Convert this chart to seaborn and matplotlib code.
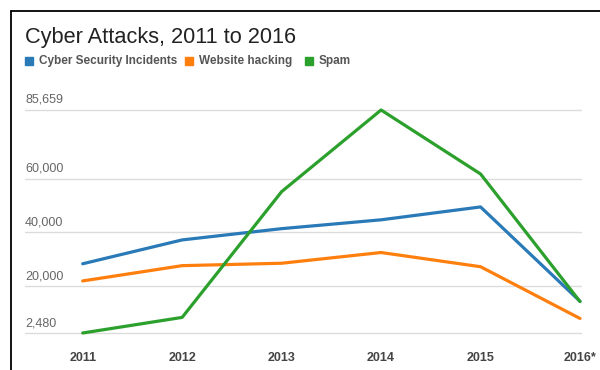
import matplotlib
matplotlib.use("Agg")
import matplotlib.pyplot as plt
from matplotlib.lines import Line2D
from matplotlib.patches import Rectangle
import matplotlib.transforms as mtransforms
import seaborn as sns
import pandas as pd

years = ["2011", "2012", "2013", "2014", "2015", "2016*"]
cyber_incidents = [28300, 37200, 41400, 44700, 49500, 14300]
website_hacking = [21900, 27600, 28500, 32500, 27200, 7900]
spam = [2480, 8300, 55200, 85659, 61800, 14200]
series_names = ["Cyber Security Incidents", "Website hacking", "Spam"]
ytick_values = [2480, 20000, 40000, 60000, 85659]
ytick_labels = ["2,480", "20,000", "40,000", "60,000", "85,659"]
colors = ["#2a7ab8", "#ff7f0e", "#2ca02c"]

df = pd.DataFrame({
    "year": years * 3,
    "value": cyber_incidents + website_hacking + spam,
    "series": [series_names[0]] * 6 + [series_names[1]] * 6 + [series_names[2]] * 6,
})

sns.set_theme(style="white")
plt.rcParams["font.family"] = ["Liberation Sans", "DejaVu Sans"]

W, H = 600, 370
fig = plt.figure(figsize=(6, 3.7), dpi=100)
ax = fig.add_axes([25 / W, 1 - 338 / H, (582 - 25) / W, (338 - 90) / H])

sns.lineplot(data=df, x="year", y="value", hue="series", palette=colors,
             hue_order=series_names, sort=False, linewidth=2.3, ax=ax, legend=False)

ax.set_xlim(-0.58, 5.02)
ax.set_ylim(615, 93119)
for v in ytick_values:
    ax.axhline(v, color="#dcdcdc", linewidth=1, zorder=0)
ax.set_yticks([])
ax.set_xticks(range(len(years)))
ax.set_xticklabels(years, fontsize=9, fontweight="bold", color="#444444")
ax.tick_params(axis="x", length=0, pad=10)
ax.set_xlabel("")
ax.set_ylabel("")
for s in ax.spines.values():
    s.set_visible(False)

trans = mtransforms.blended_transform_factory(ax.transAxes, ax.transData)
label_trans = trans + mtransforms.ScaledTranslation(0, 4 / 100, fig.dpi_scale_trans)
for v, lab in zip(ytick_values, ytick_labels):
    ax.text(0.0, v, lab, transform=label_trans, ha="left", va="bottom",
            fontsize=9, color="#666666")

fig.text(25 / W, 1 - 38 / H, "Cyber Attacks, 2011 to 2016", fontsize=15.7,
         color="#222222", ha="left", va="center")

legend_x = [25, 185, 305]
for x0, name, c in zip(legend_x, series_names, colors):
    fig.add_artist(Rectangle((x0 / W, 1 - 65 / H), 8 / W, 8 / H,
                             transform=fig.transFigure, color=c))
    fig.text((x0 + 14) / W, 1 - 61 / H, name, fontsize=8.5, fontweight="bold",
             color="#555555", ha="left", va="center")

fig.add_artist(Line2D([11 / W, 11 / W], [0, 1 - 11 / H], color="black",
                      linewidth=1.3, transform=fig.transFigure))
fig.add_artist(Line2D([11 / W, 1], [1 - 11 / H, 1 - 11 / H], color="black",
                      linewidth=1.3, transform=fig.transFigure))

fig.savefig("out.png", dpi=100, facecolor="white")
